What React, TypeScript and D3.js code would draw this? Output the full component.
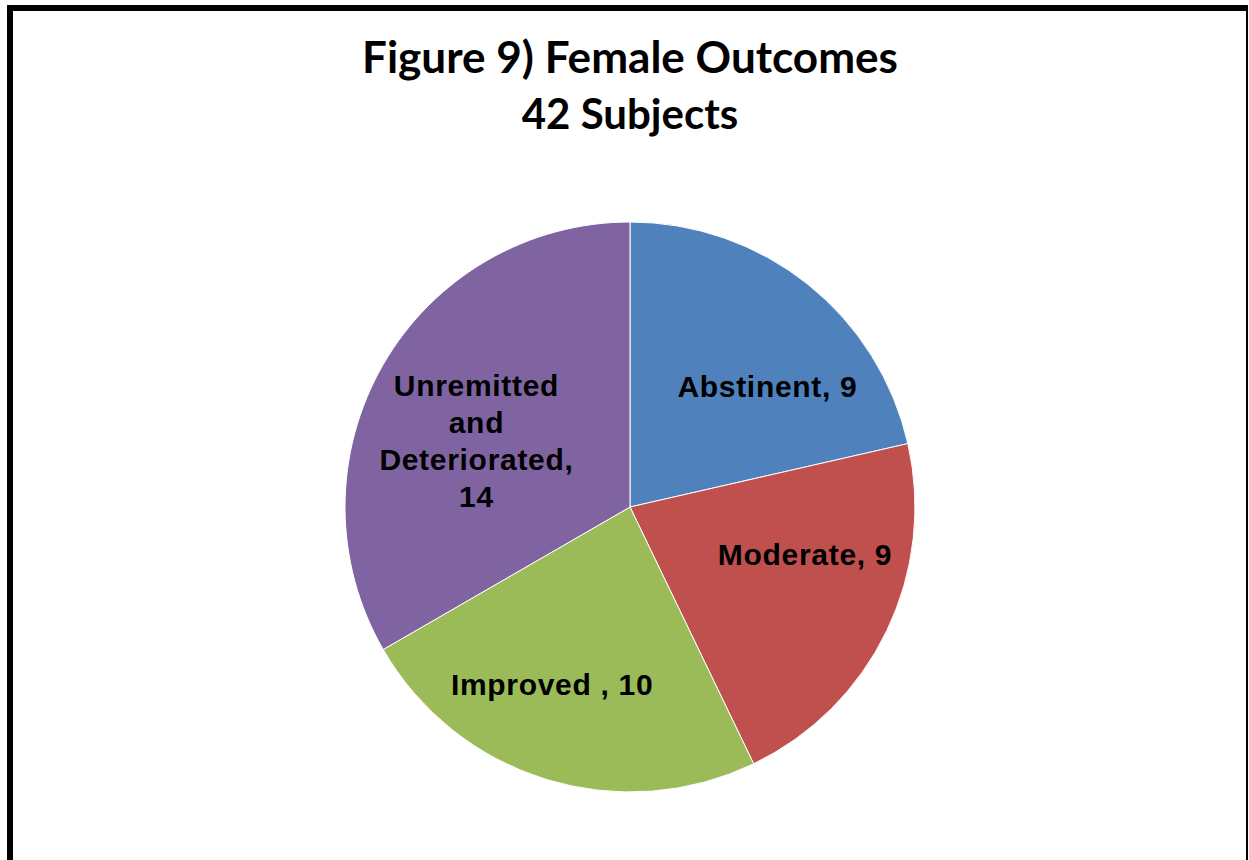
import React from "react";
import * as d3 from "d3";

const categories = ["Abstinent", "Moderate", "Improved ", "Unremitted and Deteriorated"];
const values = [9, 9, 10, 14];
const colors = ["#4F81BD", "#C0504D", "#9BBB59", "#8064A2"];
const titleLines = ["Figure 9) Female Outcomes", "42 Subjects"];

// label layout: angle (deg, clockwise from top) and radius fraction for each slice label
const labelLayout = [
  { angle: 51.3, rf: 0.618, lines: ["Abstinent, 9"] },
  { angle: 108.3, rf: 0.647, lines: ["Moderate, 9"] },
  { angle: 202.5, rf: 0.714, lines: ["Improved , 10"] },
  { angle: 289.9, rf: 0.573, lines: ["Unremitted", "and", "Deteriorated,", "14"] },
];

const W = 1249;
const H = 860;
const cx = 630;
const cy = 507;
const R = 285;

export default function App() {
  const pie = d3.pie<number>().sort(null).value((d) => d)(values);
  const arc = d3.arc<d3.PieArcDatum<number>>().innerRadius(0).outerRadius(R);
  const lineH = 37;
  return (
    <svg
      width={W}
      height={H}
      style={{ position: "absolute", left: 0, top: 0, display: "block", background: "#fff" }}
    >
      <rect x={0} y={0} width={W} height={H} fill="#fff" />
      {/* frame */}
      <rect x={7} y={5} width={6} height={H} fill="#000" />
      <rect x={7} y={5} width={1241} height={6} fill="#000" />
      <rect x={1246} y={5} width={2} height={H} fill="#000" />
      {/* title */}
      <text
        x={cx}
        y={73}
        textAnchor="middle"
        fontFamily="Lato, 'Open Sans', sans-serif"
        fontWeight="bold"
        fontSize={43}
        fill="#000"
        textLength={536}
        lengthAdjust="spacingAndGlyphs"
      >
        {titleLines[0]}
      </text>
      <text
        x={cx}
        y={129}
        textAnchor="middle"
        fontFamily="Lato, 'Open Sans', sans-serif"
        fontWeight="bold"
        fontSize={42}
        fill="#000"
      >
        {titleLines[1]}
      </text>
      <g transform={`translate(${cx},${cy})`}>
        {pie.map((p, i) => (
          <path key={categories[i]} d={arc(p) || ""} fill={colors[i]} stroke="#fff" strokeWidth={1} />
        ))}
        {pie.map((p, i) => {
          const L = labelLayout[i];
          const a = (L.angle * Math.PI) / 180;
          const x = Math.sin(a) * L.rf * R;
          const y = -Math.cos(a) * L.rf * R;
          const n = L.lines.length;
          return (
            <text
              key={"l" + i}
              textAnchor="middle"
              fontFamily="'Liberation Sans', Arial, sans-serif"
              fontWeight="bold"
              fontSize={30}
              fill="#000"
              letterSpacing={0.7}
            >
              {L.lines.map((t, j) => (
                <tspan key={j} x={x} y={y + (j - (n - 1) / 2) * lineH}>
                  {t}
                </tspan>
              ))}
            </text>
          );
        })}
      </g>
    </svg>
  );
}
